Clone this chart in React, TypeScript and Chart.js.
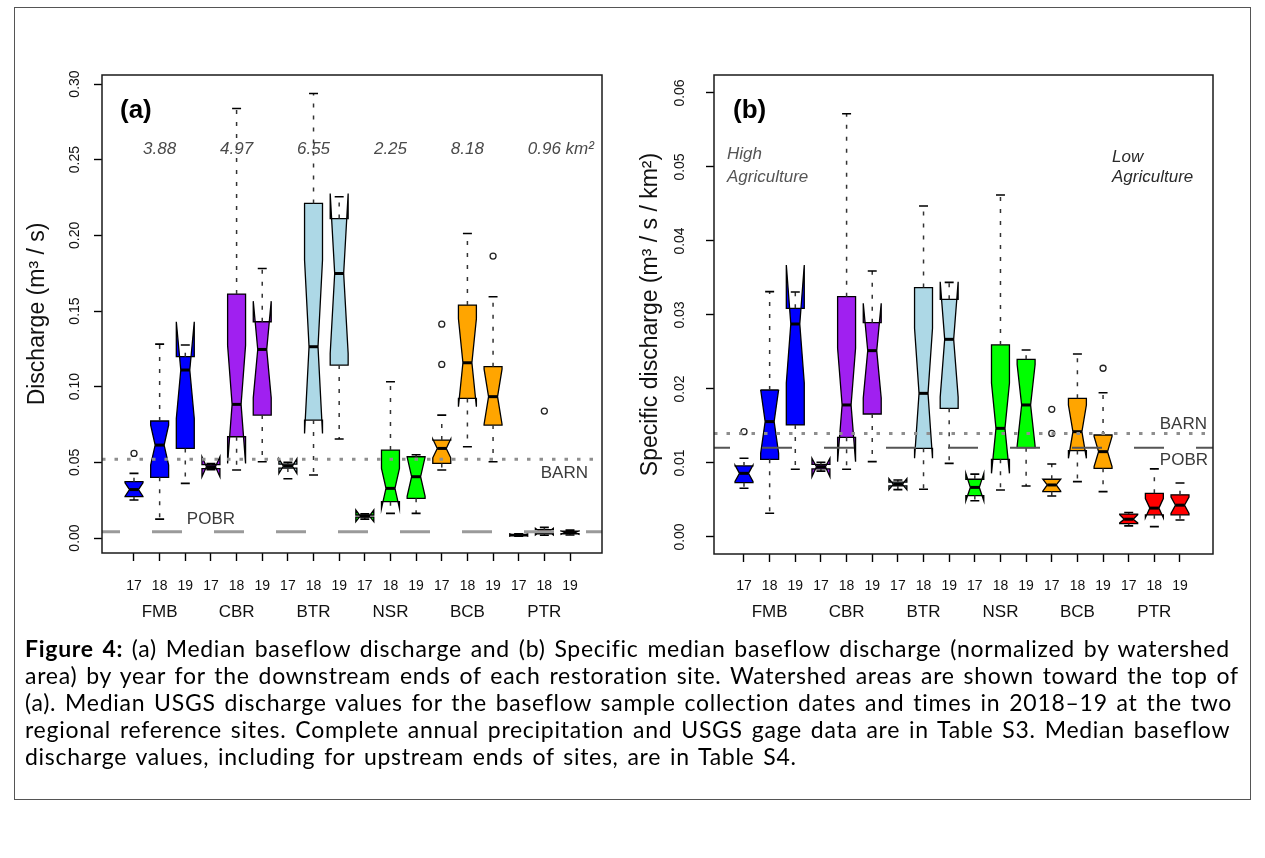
import React, { useEffect, useRef } from 'react';
import { Chart, registerables } from 'chart.js';

Chart.register(...registerables);

const FONT = '"Liberation Sans", Arial, Helvetica, sans-serif';

// ---------- categories ----------
const groups = ['FMB', 'CBR', 'BTR', 'NSR', 'BCB', 'PTR'];
const years = ['17', '18', '19'];
const boxPositions = [1, 2, 3, 4, 5, 6, 7, 8, 9, 10, 11, 12, 13, 14, 15, 16, 17, 18];
const yearLabels = ['17', '18', '19', '17', '18', '19', '17', '18', '19', '17', '18', '19', '17', '18', '19', '17', '18', '19'];
const groupCenters = [2, 5, 8, 11, 14, 17];
const groupColors = ['#0000FF', '#A020F0', '#ADD8E6', '#00FF00', '#FFA500', '#FF0000'];

// ---------- panel (a): discharge (m3/s) ----------
const aLow = [0.0251, 0.0125, 0.0361, 0.0452, 0.0449, 0.0504, 0.0392, 0.0416, 0.0654, 0.0125, 0.0163, 0.0163, 0.0449, 0.0603, 0.0504, 0.0012, 0.0018, 0.0020];
const aQ1 = [0.0273, 0.0401, 0.0592, 0.0458, 0.0669, 0.0812, 0.0462, 0.0779, 0.1143, 0.0138, 0.0240, 0.0262, 0.0493, 0.0922, 0.0746, 0.0015, 0.0028, 0.0028];
const aMedian = [0.0320, 0.0614, 0.1110, 0.0471, 0.0883, 0.1246, 0.0475, 0.1264, 0.1748, 0.0145, 0.0328, 0.0405, 0.0592, 0.1158, 0.0934, 0.0020, 0.0042, 0.0036];
const aQ3 = [0.0372, 0.0773, 0.1198, 0.0485, 0.1612, 0.1429, 0.0488, 0.2211, 0.2111, 0.0152, 0.0581, 0.0537, 0.0647, 0.1539, 0.1132, 0.0024, 0.0055, 0.0045];
const aHigh = [0.0427, 0.1281, 0.1275, 0.0492, 0.2838, 0.1781, 0.0500, 0.2937, 0.2255, 0.0160, 0.1033, 0.0550, 0.0812, 0.2012, 0.1594, 0.0027, 0.0070, 0.0052];
const aNotchLo = [0.0275, 0.0482, 0.0790, 0.0405, 0.0493, 0.0926, 0.0427, 0.0691, 0.1219, 0.0108, 0.0196, 0.0275, 0.0530, 0.0867, 0.0752, 0.0012, 0.0020, 0.0025];
const aNotchHi = [0.0365, 0.0746, 0.1429, 0.0537, 0.1273, 0.1565, 0.0523, 0.1837, 0.2277, 0.0185, 0.0460, 0.0535, 0.0654, 0.1449, 0.1116, 0.0028, 0.0064, 0.0047];
const aOutlierBox = [1, 13, 13, 15, 17];
const aOutlierValue = [0.0559, 0.1413, 0.1147, 0.1863, 0.0839];
const aTicks = [0, 0.05, 0.1, 0.15, 0.2, 0.25, 0.3];
const aAreas = ['3.88', '4.97', '6.55', '2.25', '8.18', '0.96'];
const aBarn = 0.052;
const aPobr = 0.0042;

// ---------- panel (b): specific discharge (m3/s/km2) ----------
const bLow = [0.00658, 0.0032, 0.00915, 0.0089, 0.00915, 0.01018, 0.0064, 0.00644, 0.00995, 0.0049, 0.00635, 0.00689, 0.00554, 0.00748, 0.00613, 0.0015, 0.0014, 0.0023];
const bQ1 = [0.00734, 0.0105, 0.01514, 0.0092, 0.01347, 0.01662, 0.0069, 0.01198, 0.01739, 0.0056, 0.0105, 0.01207, 0.00613, 0.01167, 0.00928, 0.0018, 0.0030, 0.0030];
const bMedian = [0.0086, 0.01559, 0.02878, 0.0095, 0.01784, 0.02518, 0.00712, 0.01941, 0.02671, 0.0067, 0.01468, 0.01784, 0.00703, 0.01423, 0.01153, 0.0024, 0.0039, 0.0043];
const bQ3 = [0.0096, 0.01986, 0.0309, 0.0098, 0.03248, 0.02896, 0.0074, 0.0337, 0.03212, 0.0078, 0.02595, 0.02401, 0.0078, 0.01874, 0.01378, 0.0031, 0.0059, 0.0057];
const bHigh = [0.01063, 0.03315, 0.0331, 0.0101, 0.0572, 0.03595, 0.0077, 0.04473, 0.0344, 0.0085, 0.04622, 0.02527, 0.00986, 0.02473, 0.0195, 0.0033, 0.0092, 0.0073];
const bNotchLo = [0.0075, 0.0113, 0.0208, 0.00815, 0.01018, 0.01878, 0.0064, 0.01063, 0.0189, 0.0049, 0.0086, 0.0123, 0.0062, 0.01063, 0.0095, 0.0019, 0.0026, 0.0032];
const bNotchHi = [0.0097, 0.0199, 0.03676, 0.01063, 0.0255, 0.03158, 0.0079, 0.0282, 0.0345, 0.0086, 0.0208, 0.0233, 0.0078, 0.01783, 0.0136, 0.0030, 0.0052, 0.0054];
const bOutlierBox = [1, 13, 13, 15];
const bOutlierValue = [0.01423, 0.01725, 0.0140, 0.0228];
const bTicks = [0, 0.01, 0.02, 0.03, 0.04, 0.05, 0.06];
const bBarn = 0.0140;
const bPobr = 0.01207;

type PanelKey = 'a' | 'b';

const panels: Record<PanelKey, any> = {
  a: {
    low: aLow, q1: aQ1, med: aMedian, q3: aQ3, high: aHigh, nlo: aNotchLo, nhi: aNotchHi,
    outBox: aOutlierBox, outVal: aOutlierValue, ticks: aTicks, barn: aBarn, pobr: aPobr,
    yMin: -0.00991, yMax: 0.30595, xMin: -0.2477, xMax: 19.2477,
    yTitle: 'Discharge (m\u00B3 / s)', yWidth: 86, yPad: 5.4, titlePad: 8.2,
    rightPad: 30, xHeight: 45, x2Height: 42, xPad: 17, gPad: 4.3,
  },
  b: {
    low: bLow, q1: bQ1, med: bMedian, q3: bQ3, high: bHigh, nlo: bNotchLo, nhi: bNotchHi,
    outBox: bOutlierBox, outVal: bOutlierValue, ticks: bTicks, barn: bBarn, pobr: bPobr,
    yMin: -0.0023, yMax: 0.06243, xMin: -0.1697, xMax: 19.2867,
    yTitle: 'Specific discharge (m\u00B3 / s / km\u00B2)', yWidth: 82, yPad: 12.4, titlePad: 5.2,
    rightPad: 35, xHeight: 45, x2Height: 41, xPad: 15.7, gPad: 3.3,
  },
};

function drawBox(ctx: CanvasRenderingContext2D, xs: any, ys: any, pos: number,
  lo: number, q1: number, med: number, q3: number, hi: number, nlo: number, nhi: number, color: string) {
  const hw = 0.35;
  const X = (v: number) => xs.getPixelForValue(v);
  const Y = (v: number) => ys.getPixelForValue(v);
  const xl = X(pos - hw), xr = X(pos + hw);
  const xml = X(pos - hw / 2), xmr = X(pos + hw / 2);
  const xc = X(pos);
  ctx.save();
  // notched box polygon (R style, folds when notch exceeds hinges)
  ctx.beginPath();
  ctx.moveTo(xl, Y(q1));
  ctx.lineTo(xl, Y(nlo));
  ctx.lineTo(xml, Y(med));
  ctx.lineTo(xl, Y(nhi));
  ctx.lineTo(xl, Y(q3));
  ctx.lineTo(xr, Y(q3));
  ctx.lineTo(xr, Y(nhi));
  ctx.lineTo(xmr, Y(med));
  ctx.lineTo(xr, Y(nlo));
  ctx.lineTo(xr, Y(q1));
  ctx.closePath();
  ctx.fillStyle = color;
  ctx.fill();
  ctx.strokeStyle = '#000';
  ctx.lineWidth = 1.3;
  ctx.lineJoin = 'miter';
  ctx.stroke();
  // whiskers
  ctx.setLineDash([4, 8]);
  ctx.strokeStyle = '#333';
  ctx.lineWidth = 1.5;
  ctx.beginPath();
  if (hi > q3) { ctx.moveTo(xc, Y(q3)); ctx.lineTo(xc, Y(hi)); }
  if (lo < q1) { ctx.moveTo(xc, Y(q1)); ctx.lineTo(xc, Y(lo)); }
  ctx.stroke();
  ctx.setLineDash([]);
  // staples
  const sl = X(pos - hw / 2), sr = X(pos + hw / 2);
  ctx.strokeStyle = '#000';
  ctx.lineWidth = 1.6;
  ctx.beginPath();
  ctx.moveTo(sl, Y(hi)); ctx.lineTo(sr, Y(hi));
  ctx.moveTo(sl, Y(lo)); ctx.lineTo(sr, Y(lo));
  ctx.stroke();
  // median
  ctx.lineWidth = 3;
  ctx.lineCap = 'butt';
  ctx.beginPath();
  ctx.moveTo(xml, Y(med)); ctx.lineTo(xmr, Y(med));
  ctx.stroke();
  ctx.restore();
}

const boxPlugin = {
  id: 'rbox',
  beforeDatasetsDraw(chart: any, _args: any, opts: any) {
    const P = panels[opts.panel as PanelKey];
    const { ctx, scales } = chart;
    for (let i = 0; i < boxPositions.length; i++) {
      drawBox(ctx, scales.x, scales.y, boxPositions[i], P.low[i], P.q1[i], P.med[i], P.q3[i], P.high[i], P.nlo[i], P.nhi[i], groupColors[Math.floor(i / 3)]);
    }
  },
  afterDatasetsDraw(chart: any, _args: any, opts: any) {
    const key = opts.panel as PanelKey;
    const P = panels[key];
    const { ctx, chartArea: ca, scales } = chart;
    const X = (v: number) => scales.x.getPixelForValue(v);
    const Y = (v: number) => scales.y.getPixelForValue(v);
    ctx.save();
    ctx.beginPath();
    ctx.rect(ca.left, ca.top, ca.right - ca.left, ca.bottom - ca.top);
    ctx.clip();
    // BARN dotted reference line
    ctx.strokeStyle = '#8e8e8e';
    ctx.lineWidth = 3;
    ctx.setLineDash([3.5, 9]);
    ctx.lineDashOffset = 0;
    ctx.beginPath();
    ctx.moveTo(ca.left, Y(P.barn)); ctx.lineTo(ca.right, Y(P.barn));
    ctx.stroke();
    // POBR long-dash reference line
    ctx.strokeStyle = key === 'a' ? '#9a9a9a' : '#555';
    ctx.lineWidth = key === 'a' ? 3 : 2;
    ctx.setLineDash([30, 32]);
    ctx.lineDashOffset = key === 'a' ? 12 : 14;
    ctx.beginPath();
    ctx.moveTo(ca.left, Y(P.pobr)); ctx.lineTo(ca.right, Y(P.pobr));
    ctx.stroke();
    ctx.setLineDash([]);
    ctx.restore();

    ctx.save();
    ctx.textBaseline = 'middle';
    // panel letter
    ctx.fillStyle = '#000';
    ctx.font = `bold 26px ${FONT}`;
    ctx.textAlign = 'left';
    ctx.fillText(key === 'a' ? '(a)' : '(b)', ca.left + (key === 'a' ? 18 : 19), ca.top + 36);

    ctx.font = `17px ${FONT}`;
    ctx.fillStyle = '#3a3a3a';
    if (key === 'a') {
      ctx.textAlign = 'right';
      ctx.fillText('BARN', ca.right - 14, Y(P.barn) + 14);
      ctx.textAlign = 'center';
      ctx.fillText('POBR', X(4), Y(P.pobr) - 12);
      // watershed areas
      ctx.font = `italic 17px ${FONT}`;
      ctx.fillStyle = '#4a4a4a';
      for (let g = 0; g < aAreas.length; g++) {
        const cx = X(groupCenters[g]);
        if (g === aAreas.length - 1) {
          const w = ctx.measureText(aAreas[g]).width;
          ctx.textAlign = 'left';
          ctx.fillText(aAreas[g] + ' km\u00B2', cx - w / 2, ca.top + 74);
        } else {
          ctx.textAlign = 'center';
          ctx.fillText(aAreas[g], cx, ca.top + 74);
        }
      }
    } else {
      ctx.textAlign = 'right';
      ctx.fillText('BARN', ca.right - 6, Y(P.barn) - 9);
      ctx.fillText('POBR', ca.right - 5, Y(P.pobr) + 13);
      ctx.font = `italic 17px ${FONT}`;
      ctx.textAlign = 'left';
      ctx.fillStyle = '#555';
      ctx.fillText('High', ca.left + 13, ca.top + 79);
      ctx.fillText('Agriculture', ca.left + 13, ca.top + 102);
      ctx.fillStyle = '#2a2a2a';
      ctx.fillText('Low', ca.left + 398, ca.top + 82);
      ctx.fillText('Agriculture', ca.left + 398, ca.top + 102);
    }
    ctx.restore();
  },
  afterDraw(chart: any) {
    const { ctx, chartArea: ca } = chart;
    ctx.save();
    ctx.strokeStyle = '#1a1a1a';
    ctx.lineWidth = 1.5;
    ctx.strokeRect(ca.left, ca.top, ca.right - ca.left, ca.bottom - ca.top);
    ctx.restore();
  },
};

function buildConfig(key: PanelKey): any {
  const P = panels[key];
  return {
    type: 'scatter',
    data: {
      datasets: [{
        data: P.outBox.map((b: number, i: number) => ({ x: b, y: P.outVal[i] })),
        pointStyle: 'circle',
        pointRadius: 3,
        pointBorderWidth: 1.3,
        pointBorderColor: '#222',
        pointBackgroundColor: 'rgba(0,0,0,0)',
        showLine: false,
      }],
    },
    options: {
      animation: false,
      responsive: false,
      devicePixelRatio: 1,
      events: [],
      layout: { padding: { left: 0, top: 35, right: P.rightPad, bottom: 0 } },
      plugins: {
        legend: { display: false },
        tooltip: { enabled: false },
        rbox: { panel: key },
      },
      scales: {
        x: {
          type: 'linear', position: 'bottom', weight: 0, bounds: 'data',
          min: P.xMin, max: P.xMax,
          afterBuildTicks: (s: any) => { s.ticks = boxPositions.map((v) => ({ value: v })); },
          ticks: {
            autoSkip: false, maxRotation: 0, minRotation: 0, padding: P.xPad, color: '#111',
            font: { family: FONT, size: 14 },
            callback: (_v: any, i: number) => yearLabels[i],
          },
          grid: { drawOnChartArea: false, drawTicks: true, tickLength: 8, tickColor: '#000', tickWidth: 1.4 },
          border: { display: false },
          afterFit: (s: any) => { s.height = P.xHeight; },
        },
        x2: {
          type: 'linear', position: 'bottom', weight: 1, bounds: 'data',
          min: P.xMin, max: P.xMax,
          afterBuildTicks: (s: any) => { s.ticks = groupCenters.map((v) => ({ value: v })); },
          ticks: {
            autoSkip: false, maxRotation: 0, minRotation: 0, padding: P.gPad, color: '#111',
            font: { family: FONT, size: 17 },
            callback: (_v: any, i: number) => groups[i],
          },
          grid: { display: false, drawTicks: false },
          border: { display: false },
          afterFit: (s: any) => { s.height = P.x2Height; },
        },
        y: {
          type: 'linear', position: 'left', bounds: 'data',
          min: P.yMin, max: P.yMax,
          afterBuildTicks: (s: any) => { s.ticks = P.ticks.map((v: number) => ({ value: v })); },
          ticks: {
            minRotation: 90, maxRotation: 90, crossAlign: 'center', padding: P.yPad, color: '#111',
            font: { family: FONT, size: 14 },
            callback: (v: any) => Number(v).toFixed(2),
          },
          grid: { drawOnChartArea: false, drawTicks: true, tickLength: 8, tickColor: '#000', tickWidth: 1.4 },
          border: { display: false },
          title: {
            display: true, text: P.yTitle, color: '#111',
            font: { family: FONT, size: 23 },
            padding: { top: P.titlePad, bottom: 0 },
          },
          afterFit: (s: any) => { s.width = P.yWidth; },
        },
      },
    },
    plugins: [boxPlugin],
  };
}

function Panel({ panel, left }: { panel: PanelKey; left: number }) {
  const ref = useRef<HTMLCanvasElement>(null);
  useEffect(() => {
    const chart = new Chart(ref.current as HTMLCanvasElement, buildConfig(panel));
    return () => chart.destroy();
  }, [panel]);
  return (
    <canvas
      ref={ref}
      width={616}
      height={600}
      style={{ position: 'absolute', left, top: 40, width: 616, height: 600 }}
    />
  );
}

const captionLines = [
  '(a) Median baseflow discharge and (b) Specific median baseflow discharge (normalized by watershed',
  'area) by year for the downstream ends of each restoration site. Watershed areas are shown toward the top of',
  '(a). Median USGS discharge values for the baseflow sample collection dates and times in 2018\u201319 at the two',
  'regional reference sites. Complete annual precipitation and USGS gage data are in Table S3. Median baseflow',
  'discharge values, including for upstream ends of sites, are in Table S4.',
];

export default function App() {
  return (
    <div style={{ position: 'absolute', left: 0, top: 0, width: 1265, height: 858, background: '#fff' }}>
      <div
        style={{
          position: 'absolute', left: 14, top: 7, width: 1237, height: 793,
          border: '1px solid #555', boxSizing: 'border-box',
        }}
      />
      <Panel panel="a" left={16} />
      <Panel panel="b" left={632} />
      <div
        style={{
          position: 'absolute', left: 25, top: 635, fontFamily: 'Lato, "Open Sans", sans-serif',
          fontSize: 23, lineHeight: '27px', letterSpacing: '0.72px', wordSpacing: '2.3px',
          color: '#000', whiteSpace: 'nowrap',
        }}
      >
        {captionLines.map((line, i) => (
          <div key={i}>
            {i === 0 ? <b>Figure 4: </b> : null}
            {line}
          </div>
        ))}
      </div>
    </div>
  );
}
